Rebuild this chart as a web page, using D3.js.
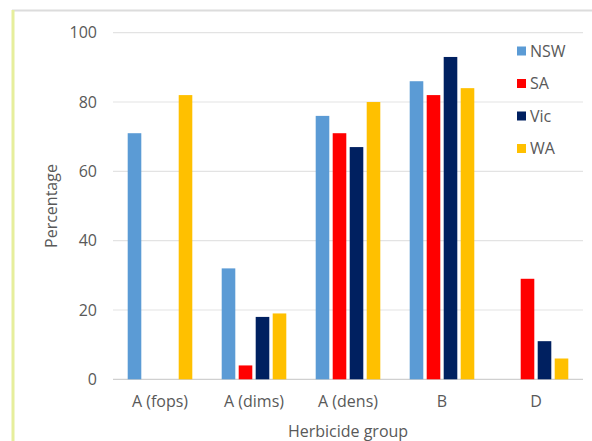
<!DOCTYPE html>
<html>
<head>
<meta charset="utf-8">
<script src="https://cdn.jsdelivr.net/npm/d3@7"></script>
<style>
  html, body { margin: 0; padding: 0; background: #fff; }
  text { font-family: "Open Sans", sans-serif; fill: #595959; }
</style>
</head>
<body>
<svg id="chart" width="592" height="441"></svg>
<script>
const categories = ["A (fops)", "A (dims)", "A (dens)", "B", "D"];
const seriesNames = ["NSW", "SA", "Vic", "WA"];
const seriesColors = ["#5B9BD5", "#FF0000", "#002060", "#FFC000"];
const NSW = [71, 32, 76, 86, 0];
const SA  = [0, 4, 71, 82, 29];
const Vic = [0, 18, 67, 93, 11];
const WA  = [82, 19, 80, 84, 6];
const yTicks = [0, 20, 40, 60, 80, 100];
const xTitle = "Herbicide group";
const yTitle = "Percentage";

const seriesValues = [NSW, SA, Vic, WA];

const svg = d3.select("#chart");

// frame
svg.append("line").attr("x1", 12).attr("x2", 592).attr("y1", 10.5).attr("y2", 10.5)
  .attr("stroke", "#dcdcdc").attr("stroke-width", 2);
svg.append("line").attr("x1", 13).attr("x2", 13).attr("y1", 10).attr("y2", 441)
  .attr("stroke", "#e6ee9c").attr("stroke-width", 3);

const plotLeft = 113, plotRight = 583, plotTop = 32.7, plotBottom = 379.3;

const x = d3.scaleBand().domain(categories).range([plotLeft, plotRight]).padding(0);
const y = d3.scaleLinear().domain([0, 100]).range([plotBottom, plotTop]);
const slot = d3.scaleBand().domain(seriesNames).range([0, 68]).paddingInner(0.2).paddingOuter(0.1);

// gridlines
svg.append("g").selectAll("line").data(yTicks).join("line")
  .attr("x1", plotLeft).attr("x2", plotRight)
  .attr("y1", d => y(d)).attr("y2", d => y(d))
  .attr("stroke", d => d === 0 ? "#d0d0d0" : "#e3e3e3").attr("stroke-width", 1.2);

// y axis labels
const yAxis = d3.axisLeft(y).tickValues(yTicks).tickSize(0).tickPadding(0);
const gy = svg.append("g").attr("transform", `translate(97,0)`).call(yAxis);
gy.select(".domain").remove();
gy.selectAll("text").attr("font-size", 16).style("font-family", "Open Sans, sans-serif").attr("fill", "#595959");

// x axis labels
const xAxis = d3.axisBottom(x).tickSize(0).tickPadding(0);
const gx = svg.append("g").attr("transform", `translate(0,396)`).call(xAxis);
gx.select(".domain").remove();
gx.selectAll("text").attr("font-size", 16).style("font-family", "Open Sans, sans-serif").attr("fill", "#595959");

// bars
const groups = svg.append("g").selectAll("g").data(categories).join("g")
  .attr("transform", d => `translate(${x(d) + x.bandwidth() / 2 - 34},0)`);
groups.selectAll("rect")
  .data((c, i) => seriesNames.map((s, j) => ({ s, j, v: seriesValues[j][i] })))
  .join("rect")
  .attr("x", d => slot(d.s))
  .attr("width", slot.bandwidth())
  .attr("y", d => y(d.v))
  .attr("height", d => plotBottom - y(d.v))
  .attr("fill", d => seriesColors[d.j]);

// axis titles
svg.append("text").attr("x", (plotLeft + plotRight) / 2).attr("y", 437)
  .attr("text-anchor", "middle").attr("font-size", 16).text(xTitle);
svg.append("text").attr("transform", `translate(57,${(plotTop + plotBottom) / 2}) rotate(-90)`)
  .attr("text-anchor", "middle").attr("font-size", 16).text(yTitle);

// legend
const legendY = [51, 83.5, 116, 148.5];
const lg = svg.append("g").selectAll("g").data(seriesNames).join("g")
  .attr("transform", (d, i) => `translate(517,${legendY[i]})`);
lg.append("rect").attr("x", 0).attr("y", -4.5).attr("width", 9).attr("height", 9)
  .attr("fill", (d, i) => seriesColors[i]);
lg.append("text").attr("x", 13).attr("y", 0).attr("dy", "0.35em")
  .attr("font-size", 16).text(d => d);
</script>
</body>
</html>
